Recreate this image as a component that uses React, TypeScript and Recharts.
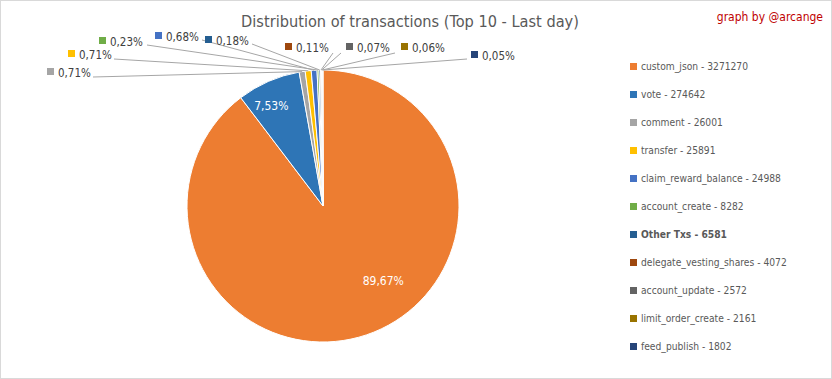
import { PieChart, Pie, Cell, Legend } from 'recharts';

const names = [
  'custom_json',
  'vote',
  'comment',
  'transfer',
  'claim_reward_balance',
  'account_create',
  'Other Txs',
  'delegate_vesting_shares',
  'account_update',
  'limit_order_create',
  'feed_publish',
];
const counts = [3271270, 274642, 26001, 25891, 24988, 8282, 6581, 4072, 2572, 2161, 1802];
const colors = [
  '#ED7D31', '#2E75B6', '#A5A5A5', '#FFC000', '#4472C4', '#70AD47',
  '#255E91', '#9E480E', '#636363', '#997300', '#264478',
];

// hand placed outside labels (Excel style), marker left x / text middle y / leader anchor
const outsideLabels: Record<number, { x: number; y: number; lx: number; ly: number }> = {
  2: { x: 46, y: 71, lx: 92, ly: 76 },
  3: { x: 67, y: 53, lx: 113, ly: 58 },
  4: { x: 154, y: 35, lx: 201, ly: 39 },
  5: { x: 98, y: 40, lx: 146, ly: 44 },
  6: { x: 204, y: 39, lx: 251, ly: 43 },
  7: { x: 284, y: 46, lx: 332, ly: 52 },
  8: { x: 345, y: 46, lx: 340, ly: 52 },
  9: { x: 400, y: 46, lx: 394, ly: 52 },
  10: { x: 470, y: 54, lx: 466, ly: 58 },
};
// inside labels: angle shift from slice middle (deg) and radius fraction
const insideLabels: Record<number, { shift: number; r: number }> = {
  0: { shift: 20, r: 0.71 },
  1: { shift: 3.6, r: 0.83 },
};

const data = names.map((name, i) => ({ name, value: counts[i] }));
const FONT = '"DejaVu Sans Condensed", "Liberation Sans Narrow", "Open Sans", sans-serif';
const RADIAN = Math.PI / 180;

const renderLabel = (props: any) => {
  const { cx, cy, midAngle, outerRadius, percent, index } = props;
  const text = (percent * 100).toFixed(2).replace('.', ',') + '%';
  const inside = insideLabels[index];
  if (inside) {
    const a = (midAngle + inside.shift) * RADIAN;
    const x = cx + outerRadius * inside.r * Math.cos(a);
    const y = cy - outerRadius * inside.r * Math.sin(a);
    return (
      <text x={x} y={y} fill="#fff" fontSize={12} fontFamily={FONT} textAnchor="middle" dominantBaseline="central">
        {text}
      </text>
    );
  }
  const o = outsideLabels[index];
  if (!o) return null;
  const ex = cx + outerRadius * Math.cos(midAngle * RADIAN);
  const ey = cy - outerRadius * Math.sin(midAngle * RADIAN);
  return (
    <g>
      <polyline points={`${o.lx},${o.ly} ${ex},${ey}`} stroke="#A6A6A6" strokeWidth={1} fill="none" />
      <rect x={o.x} y={o.y - 4} width={7} height={7} fill={colors[index]} />
      <text x={o.x + 11} y={o.y + 1} fill="#404040" fontSize={11.5} fontFamily={FONT} dominantBaseline="central">
        {text}
      </text>
    </g>
  );
};

const renderLegend = () => (
  <div style={{ fontFamily: FONT, fontSize: 10.2, color: '#595959' }}>
    {names.map((n, i) => (
      <div key={n} style={{ display: 'flex', alignItems: 'center', height: 28, fontWeight: n === 'Other Txs' ? 'bold' : 'normal' }}>
        <span style={{ display: 'inline-block', width: 7, height: 7, background: colors[i], marginRight: 4 }} />
        {n} - {counts[i]}
      </div>
    ))}
  </div>
);

export default function App() {
  return (
    <div style={{ position: 'absolute', left: 0, top: 0, width: 830, height: 377, border: '1px solid #D9D9D9', background: '#fff' }}>
      <div style={{ position: 'absolute', left: 0, width: 818, top: 11, textAlign: 'center', fontFamily: FONT, fontSize: 16.2, color: '#595959' }}>
        Distribution of transactions (Top 10 - Last day)
      </div>
      <div style={{ position: 'absolute', right: 8, top: 9, fontFamily: FONT, fontSize: 12, color: '#C00000' }}>
        graph by @arcange
      </div>
      <PieChart width={830} height={377} margin={{ top: 0, right: 0, bottom: 0, left: 0 }} style={{ position: 'absolute', left: 0, top: 0 }}>
        <Pie
          data={data}
          dataKey="value"
          nameKey="name"
          cx={322}
          cy={205}
          outerRadius={136}
          startAngle={90}
          endAngle={-270}
          stroke="#fff"
          strokeWidth={1}
          label={renderLabel}
          labelLine={false}
          isAnimationActive={false}
        >
          {data.map((d, i) => (
            <Cell key={d.name} fill={colors[i]} />
          ))}
        </Pie>
        <Legend
          layout="vertical"
          align="right"
          verticalAlign="top"
          content={renderLegend}
          wrapperStyle={{ left: 629, top: 51, width: 200 }}
        />
      </PieChart>
    </div>
  );
}
